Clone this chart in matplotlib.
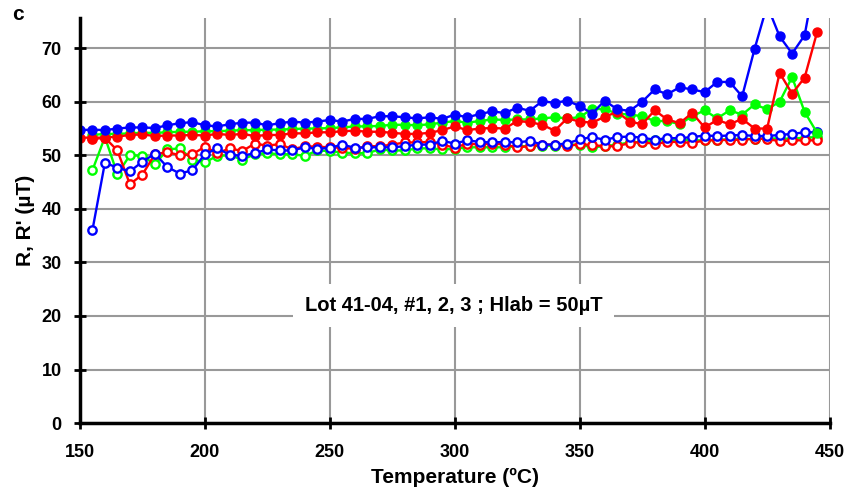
import matplotlib
matplotlib.use("Agg")
import matplotlib.pyplot as plt

plt.rcParams['font.family'] = ['Liberation Sans', 'DejaVu Sans']
plt.rcParams['font.weight'] = 'bold'

# Temperatures (ºC)
temps_all = list(range(150, 450, 5))   # 150 .. 445
temps_155 = temps_all[1:]              # 155 .. 445

# Filled symbols (R)
blue_filled = [54.7, 54.8, 54.7, 55.0, 55.2, 55.2, 55.1, 55.6, 56.0, 56.2,
               55.6, 55.4, 55.8, 56.1, 56.1, 55.6, 56.0, 56.3, 56.1, 56.3,
               56.6, 56.3, 56.8, 56.8, 57.3, 57.3, 57.1, 56.9, 57.1, 56.8,
               57.6, 57.1, 57.7, 58.2, 57.9, 58.9, 58.3, 60.1, 59.8, 60.2,
               59.2, 57.8, 60.2, 58.6, 58.3, 60.0, 62.3, 61.4, 62.7, 62.3,
               61.8, 63.7, 63.7, 61.0, 69.9, 78.0, 72.2, 69.0, 72.4, 85.0]
red_filled = [53.3, 53.3, 53.3, 53.5, 53.8, 53.9, 53.6, 53.7, 53.7, 53.8,
              53.7, 54.0, 53.8, 54.0, 53.6, 53.8, 53.8, 54.1, 54.1, 54.3,
              54.3, 54.5, 54.6, 54.4, 54.4, 54.2, 54.0, 54.0, 54.2, 54.7,
              55.4, 54.7, 55.0, 55.1, 55.0, 56.4, 56.2, 55.7, 54.6, 56.9,
              56.3, 56.1, 57.2, 58.1, 56.3, 55.8, 58.4, 56.7, 56.0, 57.9,
              55.2, 56.6, 55.8, 56.8, 55.0, 55.0, 65.4, 61.5, 64.5, 73.0]
green_filled = [53.8, 54.0, 54.0, 54.1, 54.2, 54.2, 54.3, 54.4, 54.4,
                54.5, 54.5, 54.6, 54.7, 54.7, 54.8, 54.8, 54.9, 55.0, 55.0,
                55.1, 55.2, 55.4, 55.4, 55.5, 55.7, 55.7, 55.6, 55.8, 56.1,
                56.4, 56.1, 56.4, 56.7, 56.6, 56.7, 56.7, 56.9, 57.1, 56.9,
                57.1, 58.7, 58.6, 57.8, 57.6, 57.3, 56.4, 56.4, 55.8, 57.3,
                58.4, 56.9, 58.4, 57.6, 59.5, 58.6, 60.0, 64.6, 58.1, 54.2]

# Open symbols (R')
blue_open = [36.0, 48.6, 47.7, 47.0, 48.8, 50.3, 47.8, 46.6, 47.2,
             50.2, 51.3, 50.1, 49.9, 50.4, 51.1, 50.9, 50.9, 51.5, 51.2,
             51.4, 52.0, 51.4, 51.5, 51.5, 51.5, 51.7, 52.0, 52.0, 52.7,
             52.2, 52.8, 52.5, 52.4, 52.5, 52.4, 52.7, 52.0, 52.0, 52.2,
             53.0, 53.4, 52.9, 53.4, 53.5, 53.3, 52.9, 53.2, 53.2, 53.4,
             53.7, 53.6, 53.7, 53.8, 53.6, 53.6, 53.8, 54.0, 54.3, 54.3]
red_open = [53.0, 53.3, 50.9, 44.6, 46.4, 50.2, 50.6, 50.0, 50.2,
            51.6, 50.4, 51.3, 50.8, 52.2, 51.8, 52.1, 51.1, 51.7, 51.6,
            51.5, 51.4, 51.2, 51.7, 51.7, 52.0, 52.4, 52.4, 52.5, 52.0,
            51.4, 52.2, 52.0, 52.2, 52.0, 51.5, 51.7, 52.0, 52.0, 51.7,
            52.1, 51.9, 51.7, 51.7, 52.3, 52.5, 52.1, 52.5, 52.5, 52.3,
            52.8, 52.8, 52.9, 52.9, 53.1, 53.1, 52.6, 52.8, 52.8, 52.8]
green_open = [47.2, 53.4, 46.5, 50.0, 49.9, 48.3, 51.1, 51.3, 49.2,
              48.7, 49.9, 50.0, 49.2, 50.2, 50.4, 50.2, 50.2, 49.9, 50.9,
              50.8, 50.5, 50.4, 50.4, 51.1, 50.9, 50.9, 51.3, 51.3, 51.1,
              51.2, 51.5, 51.5, 51.5, 51.5, 51.7, 51.7, 51.8, 51.8, 52.0,
              52.0, 51.5, 51.7, 52.0, 52.4, 52.5, 52.8, 52.8, 52.9, 52.8,
              52.8, 52.9, 53.0, 53.1, 53.0, 53.2, 53.1, 53.1, 53.3, 53.4]

BLUE, RED, GREEN = '#0000ff', '#ff0000', '#00ff00'

fig = plt.figure(figsize=(8.5, 4.92), dpi=100)
ax = fig.add_axes([0.094, 0.140, 0.882, 0.823])

# open symbols first
ax.plot(temps_155, green_open, color=GREEN, lw=1.7, marker='o', ms=6,
        mfc='white', mec=GREEN, mew=1.7, zorder=3)
ax.plot(temps_155, red_open, color=RED, lw=1.7, marker='o', ms=6,
        mfc='white', mec=RED, mew=1.7, zorder=3)
ax.plot(temps_155, blue_open, color=BLUE, lw=1.7, marker='o', ms=6,
        mfc='white', mec=BLUE, mew=1.7, zorder=3)

# filled symbols
ax.plot(temps_155, green_filled, color=GREEN, lw=1.7, marker='o', ms=6.5,
        zorder=4)
ax.plot(temps_all, red_filled, color=RED, lw=1.7, marker='o', ms=6.5,
        zorder=4)
ax.plot(temps_all, blue_filled, color=BLUE, lw=1.7, marker='o', ms=6.5,
        zorder=4)

ax.set_xlim(150, 450)
ax.set_ylim(0, 75.6)
ax.set_xticks(range(150, 451, 50))
ax.set_yticks(range(0, 71, 10))
ax.grid(True, color='#999999', lw=1.5, zorder=0)
ax.set_axisbelow(True)

for s in ['top', 'right']:
    ax.spines[s].set_visible(False)
for s in ['left', 'bottom']:
    ax.spines[s].set_linewidth(2.5)
    ax.spines[s].set_zorder(5)

ax.tick_params(direction='inout', length=8, width=2, labelsize=13)
ax.tick_params(axis='x', pad=11)
ax.tick_params(axis='y', pad=9)
for lbl in ax.get_xticklabels() + ax.get_yticklabels():
    lbl.set_fontweight('bold')

ax.set_xlabel('Temperature (ºC)', fontsize=15, fontweight='bold', labelpad=5)
ax.set_ylabel("R, R' (µT)", fontsize=15, fontweight='bold', labelpad=5)

ax.text(299.5, 22, 'Lot 41-04, #1, 2, 3 ; Hlab = 50µT', fontsize=14.5,
        fontweight='bold', ha='center', va='center', zorder=6,
        bbox=dict(facecolor='white', edgecolor='none',
                  boxstyle='square,pad=0.6'))

fig.text(0.014, 0.99, 'c', fontsize=15, fontweight='bold', va='top')

fig.savefig('out.png', dpi=100)
